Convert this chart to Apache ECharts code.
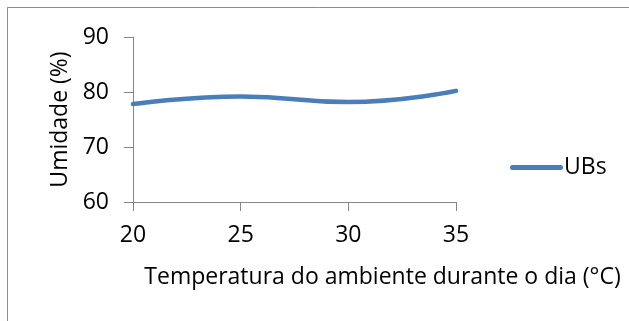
<!DOCTYPE html>
<html><head><meta charset="utf-8">
<script src="https://cdn.jsdelivr.net/npm/echarts@6/dist/echarts.min.js"></script>
<style>html,body{margin:0;padding:0;background:#fff}#c{width:629px;height:321px}</style>
</head><body><div id="c"></div>
<script>
const temperatures = [20, 25, 30, 35];
const ubs = [77.8, 79.2, 78.2, 80.2];
const seriesName = 'UBs';
const xTitle = 'Temperatura do ambiente durante o dia (°C)';
const yTitle = 'Umidade (%)';
const FONT = '"Open Sans", "Liberation Sans", sans-serif';
const FS = 23;

const chart = echarts.init(document.getElementById('c'), null, {renderer: 'canvas'});
chart.setOption({
  animation: false,
  backgroundColor: '#fff',
  graphic: [{
    type: 'rect', shape: {x: 7.5, y: 7.5, width: 700, height: 400},
    style: {fill: 'none', stroke: '#8c8c8c', lineWidth: 1}, silent: true
  }],
  grid: {left: 133, top: 37, width: 323, height: 165, containLabel: false},
  legend: {
    data: [{name: seriesName, icon: 'path://M2.5,0 L50.5,0 A2.5,2.5 0 0 1 50.5,5 L2.5,5 A2.5,2.5 0 0 1 2.5,0 Z'}],
    left: 510, top: 156, itemWidth: 53, itemHeight: 5, itemGap: 4, padding: 0,
    textStyle: {fontFamily: FONT, fontSize: FS, color: '#000', padding: [0, 0, 0, -4]}
  },
  xAxis: {
    type: 'value', min: 20, max: 35, interval: 5,
    name: xTitle, nameLocation: 'middle', nameGap: 64,
    nameTextStyle: {fontFamily: FONT, fontSize: FS, color: '#000', padding: [0, 0, 0, 176]},
    axisLine: {lineStyle: {color: '#868686', width: 1}},
    axisTick: {show: true, length: 9, inside: false, lineStyle: {color: '#868686'}},
    axisLabel: {fontFamily: FONT, fontSize: FS, color: '#000', margin: 22},
    splitLine: {show: false}
  },
  yAxis: {
    type: 'value', min: 60, max: 90, interval: 10,
    name: yTitle, nameLocation: 'middle', nameGap: 60, nameRotate: 90,
    nameTextStyle: {fontFamily: FONT, fontSize: FS, color: '#000'},
    axisLine: {show: true, lineStyle: {color: '#868686', width: 1}},
    axisTick: {show: true, length: 9, lineStyle: {color: '#868686'}},
    axisLabel: {fontFamily: FONT, fontSize: FS, color: '#000', margin: 24},
    splitLine: {show: false}
  },
  series: [{
    name: seriesName, type: 'line', smooth: 0.5,
    data: temperatures.map((t, i) => [t, ubs[i]]),
    showSymbol: false, symbol: 'none',
    lineStyle: {color: '#4a7ebb', width: 4.5, cap: 'round'},
    itemStyle: {color: '#4a7ebb'}
  }]
});
</script></body></html>
